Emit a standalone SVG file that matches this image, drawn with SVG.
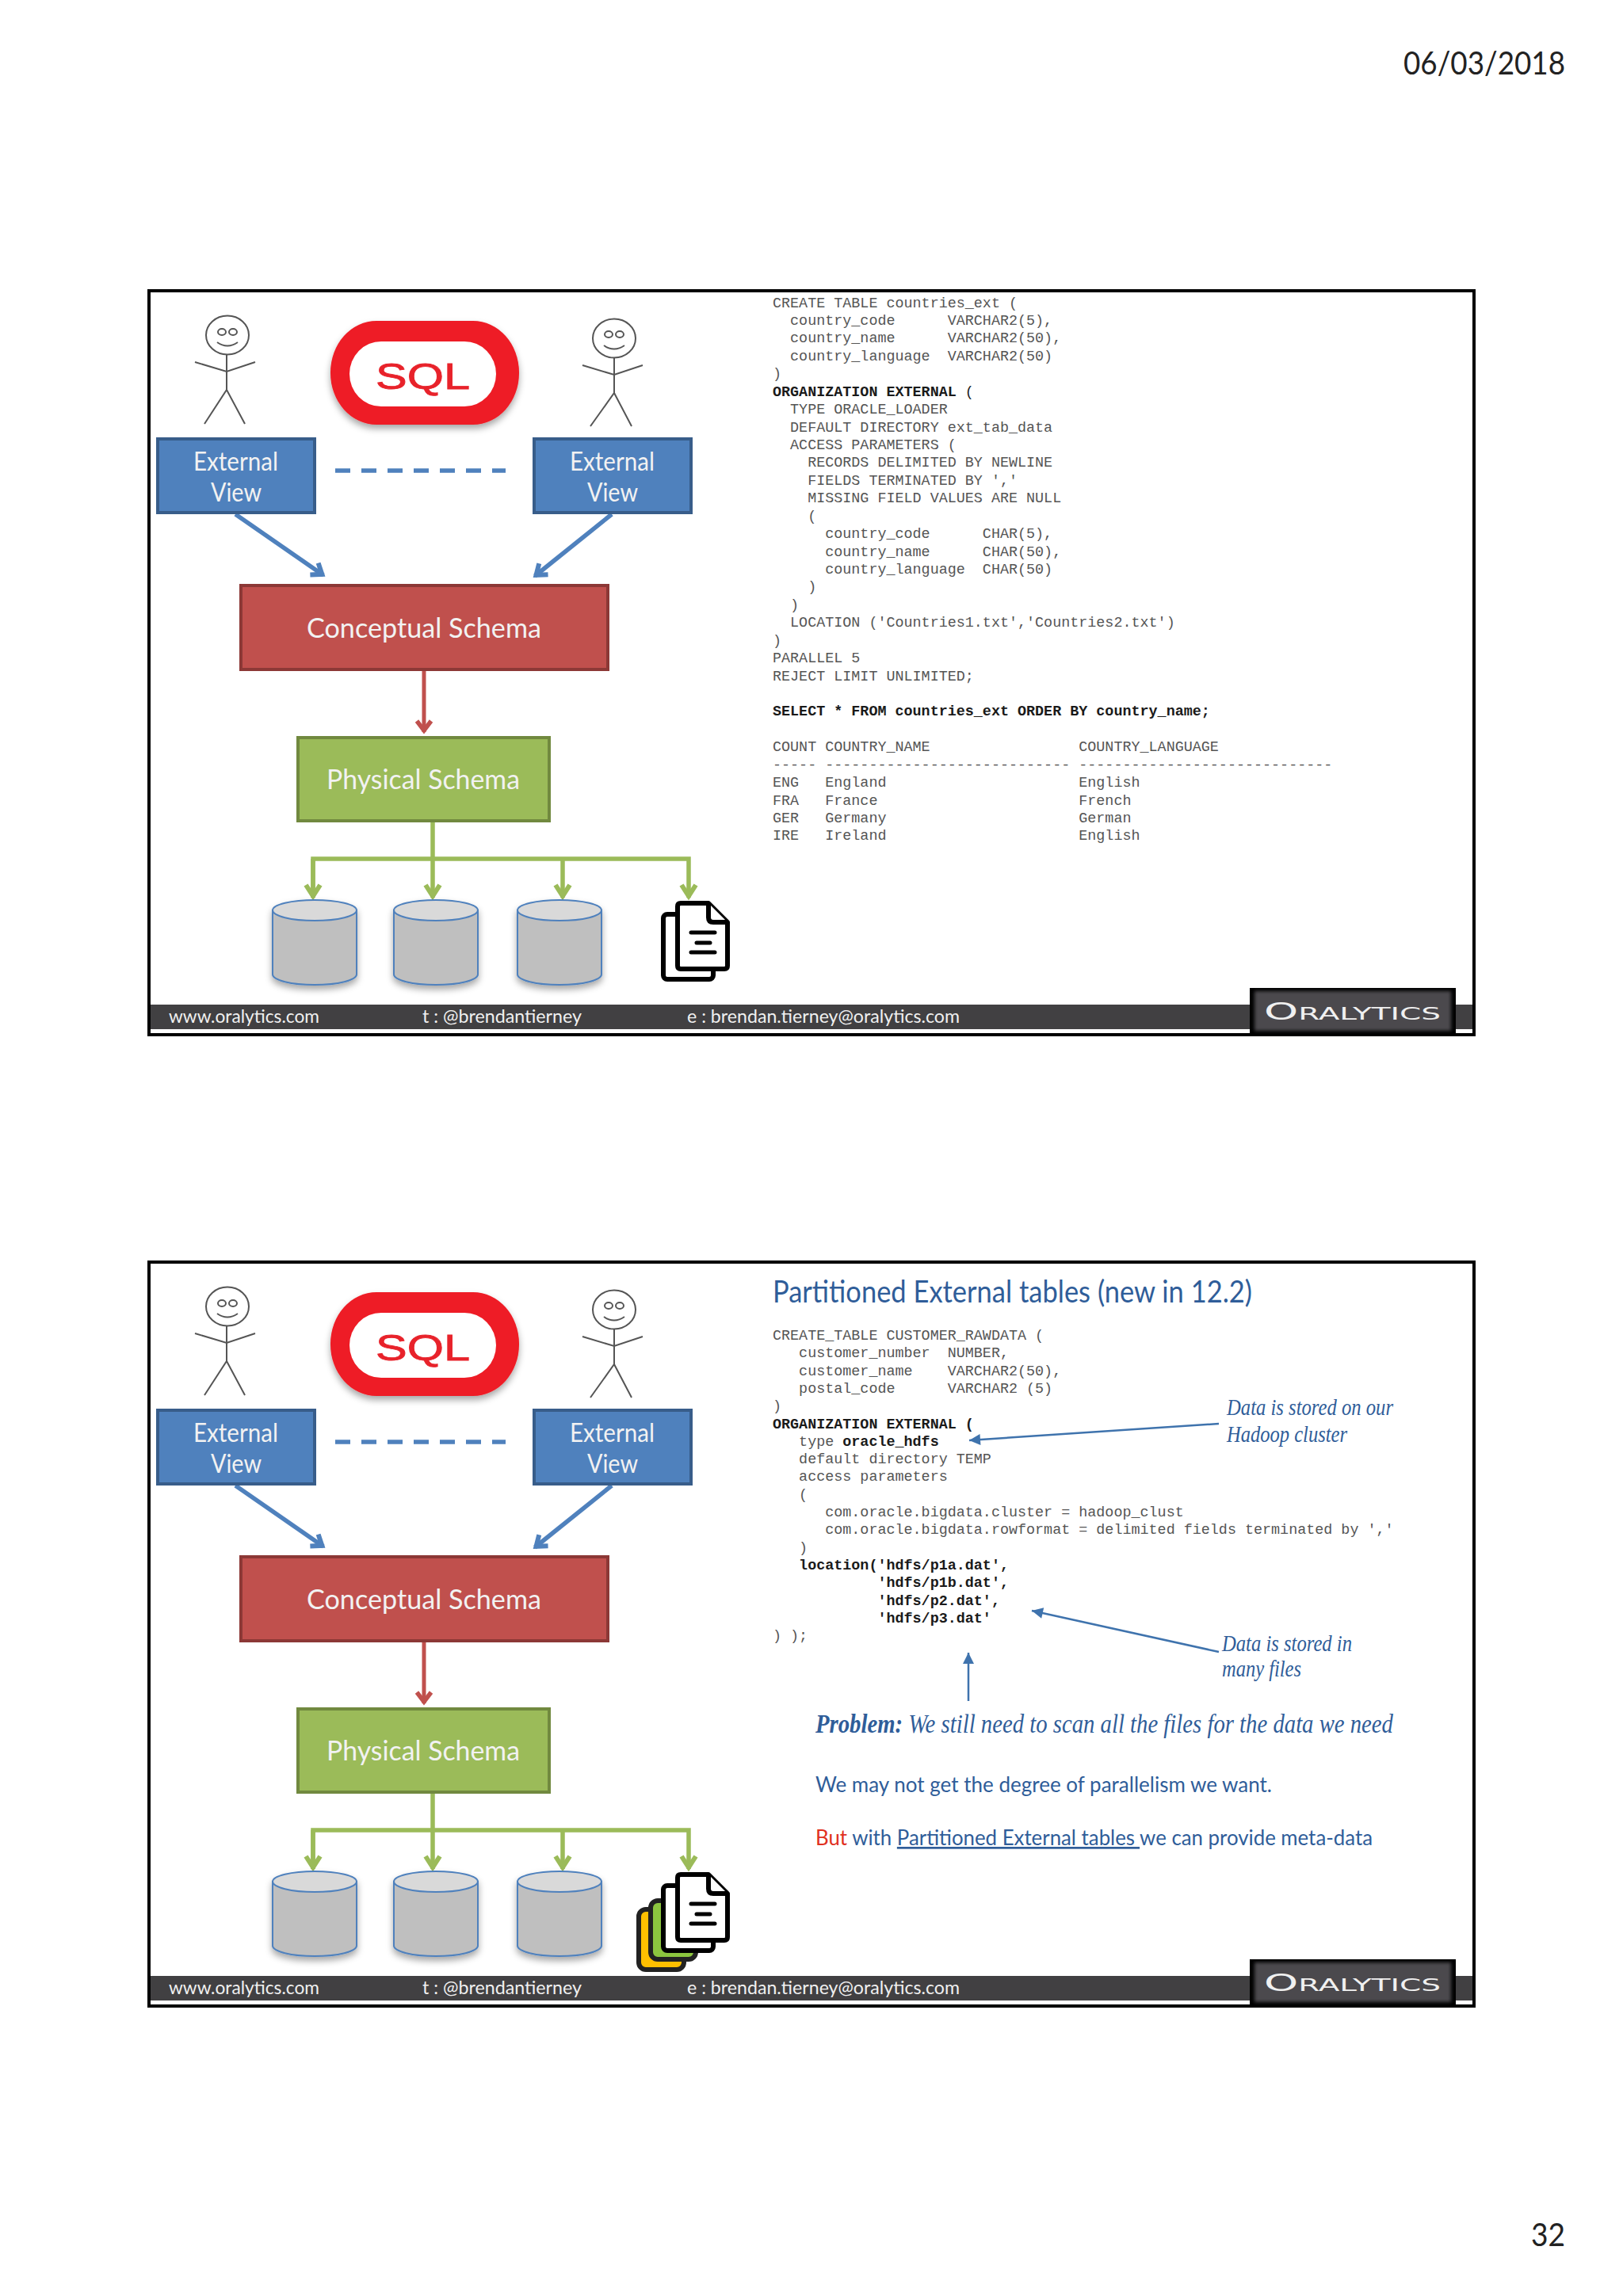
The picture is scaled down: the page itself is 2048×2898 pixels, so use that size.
<svg xmlns="http://www.w3.org/2000/svg" width="2048" height="2898" viewBox="0 0 2048 2898">
<style>
.sans{font-family:"Lato","Open Sans","Liberation Sans",sans-serif}
.code{font-family:"Liberation Mono","Courier New",monospace;font-size:18.4px;fill:#555;white-space:pre}
.code .b,.code.b{font-weight:700;fill:#1a1a1a}
.cur{font-family:"Liberation Serif",serif;font-style:italic;fill:#2f5d99;white-space:pre}
.lbl{font-family:"Lato","Open Sans",sans-serif;fill:#f2f2f2}
.foot{font-family:"Lato","Open Sans",sans-serif;fill:#f0f0f0;font-size:24px}
.blue{fill:#4f81bd;stroke:#385d8a;stroke-width:4}
.red{fill:#c0504d;stroke:#8c3836;stroke-width:4}
.green{fill:#9bbb59;stroke:#71893f;stroke-width:4}
.frame{fill:#fff;stroke:#000;stroke-width:4}
.cb{fill:#bfbfbf;stroke:#4f81bd;stroke-width:2}
.ct{fill:#d9d9d9;stroke:#4f81bd;stroke-width:2}
.st{fill:none;stroke:#555;stroke-width:2}
.doc{fill:#fff;stroke:#000;stroke-width:6;stroke-linejoin:round}
.dl{stroke:#000;stroke-width:5;stroke-linecap:round;fill:none}
.cbl{fill:none;stroke:#4f81bd;stroke-width:5.5}
.cre{fill:none;stroke:#c0504d;stroke-width:5}
.cgr{fill:none;stroke:#9bbb59;stroke-width:5.5}
.ann{fill:none;stroke:#3f73ad;stroke-width:2.5}
</style>
<defs>
<filter id="sh" x="-20%" y="-20%" width="140%" height="140%"><feDropShadow dx="0" dy="5" stdDeviation="4" flood-color="#000" flood-opacity="0.35"/></filter>
<filter id="bv" x="-5%" y="-20%" width="110%" height="140%"><feGaussianBlur stdDeviation="2"/></filter>
<marker id="aBl" markerUnits="userSpaceOnUse" viewBox="-20 -13 24 26" markerWidth="24" markerHeight="26" refX="0" refY="0" orient="auto"><path d="M-14,-9 L-2,0 L-14,9" fill="none" stroke="#4f81bd" stroke-width="6"/></marker>
<marker id="aRe" markerUnits="userSpaceOnUse" viewBox="-20 -13 24 26" markerWidth="24" markerHeight="26" refX="0" refY="0" orient="auto"><path d="M-14,-9 L-2,0 L-14,9" fill="none" stroke="#c0504d" stroke-width="5.5"/></marker>
<marker id="aGr" markerUnits="userSpaceOnUse" viewBox="-20 -13 24 26" markerWidth="24" markerHeight="26" refX="0" refY="0" orient="auto"><path d="M-16,-9 L-2,0 L-16,9" fill="none" stroke="#9bbb59" stroke-width="6"/></marker>
<marker id="aAn" markerUnits="userSpaceOnUse" viewBox="-16 -9 18 18" markerWidth="18" markerHeight="18" refX="0" refY="0" orient="auto"><path d="M-14,-7 L0,0 L-14,7Z" fill="#3f73ad"/></marker>
</defs>
<rect width="2048" height="2898" fill="#fff"/>
<text id="date" class="sans" x="1771" y="94" font-size="41" fill="#222" textLength="204" lengthAdjust="spacingAndGlyphs">06/03/2018</text>
<text id="page" class="sans" x="1932" y="2835" font-size="41" fill="#222" textLength="43" lengthAdjust="spacingAndGlyphs">32</text>

<g id="slide1">
<rect class="frame" x="188" y="367" width="1672" height="939"/>
<rect id="s1-bar" x="190" y="1268" width="1668" height="31" fill="#414042"/>
<g id="s1-connectors">
<path class="cbl" d="M297 649L408 726" marker-end="url(#aBl)"/>
<path class="cbl" d="M772 649L675 727" marker-end="url(#aBl)"/>
<path d="M423 594H638" fill="none" stroke="#4f81bd" stroke-width="5.5" stroke-dasharray="19 14"/>
<path class="cre" d="M535 847V924" marker-end="url(#aRe)"/>
<path class="cgr" d="M546 1038V1133" marker-end="url(#aGr)"/>
<path class="cgr" d="M395 1133V1084H869V1133" marker-end="url(#aGr)"/>
<path class="cgr" d="M395 1084V1133" marker-end="url(#aGr)"/>
<path class="cgr" d="M710 1084V1133" marker-end="url(#aGr)"/>
</g>
<g id="s1-user1"><ellipse class="st" cx="287" cy="423" rx="27" ry="24.5"/><ellipse class="st" cx="280" cy="419" rx="5" ry="4"/><ellipse class="st" cx="294" cy="419" rx="5" ry="4"/><path class="st" d="M274 432Q287 441 300 432M286 448V492M246 457L286 469L322 457M258 535L286 492L309 535"/></g>
<g id="s1-user2"><ellipse class="st" cx="775" cy="427" rx="27" ry="24.5"/><ellipse class="st" cx="768" cy="422" rx="5" ry="4"/><ellipse class="st" cx="782" cy="422" rx="5" ry="4"/><path class="st" d="M762 436Q775 445 788 436M775 452V496M735 461L775 473L811 461M745 538L775 496L797 538"/></g>
<g id="s1-sql" filter="url(#sh)"><rect x="417" y="405" width="238" height="131" rx="58" ry="65" fill="#ee1c25"/><rect x="441" y="431" width="185" height="82" rx="40" ry="41" fill="#fff"/><text x="474" y="491" font-family="Liberation Sans,sans-serif" font-size="47" fill="#e8212a" stroke="#e8212a" stroke-width="0.8" textLength="119" lengthAdjust="spacingAndGlyphs">SQL</text></g>
<g id="s1-ext1"><rect class="blue" x="199" y="554" width="198" height="93"/><text class="lbl" x="244" y="594" font-size="32" textLength="107" lengthAdjust="spacingAndGlyphs">External</text><text class="lbl" x="266" y="633" font-size="32" textLength="64" lengthAdjust="spacingAndGlyphs">View</text></g>
<g id="s1-ext2"><rect class="blue" x="674" y="554" width="198" height="93"/><text class="lbl" x="719" y="594" font-size="32" textLength="107" lengthAdjust="spacingAndGlyphs">External</text><text class="lbl" x="741" y="633" font-size="32" textLength="64" lengthAdjust="spacingAndGlyphs">View</text></g>
<g id="s1-conceptual"><rect class="red" x="304" y="739" width="463" height="106"/><text class="lbl" x="387" y="805" font-size="34" textLength="296" lengthAdjust="spacingAndGlyphs">Conceptual Schema</text></g>
<g id="s1-physical"><rect class="green" x="376" y="931" width="317" height="105"/><text class="lbl" x="412" y="996" font-size="34" textLength="244" lengthAdjust="spacingAndGlyphs">Physical Schema</text></g>
<g id="s1-db1" filter="url(#sh)"><path class="cb" d="M344 1149V1230A53 13 0 0 0 450 1230V1149Z"/><ellipse class="ct" cx="397" cy="1149" rx="53" ry="13"/></g>
<g id="s1-db2" filter="url(#sh)"><path class="cb" d="M497 1149V1230A53 13 0 0 0 603 1230V1149Z"/><ellipse class="ct" cx="550" cy="1149" rx="53" ry="13"/></g>
<g id="s1-db3" filter="url(#sh)"><path class="cb" d="M653 1149V1230A53 13 0 0 0 759 1230V1149Z"/><ellipse class="ct" cx="706" cy="1149" rx="53" ry="13"/></g>
<g id="s1-files"><rect class="doc" x="837" y="1154" width="63" height="82" rx="5"/><path class="doc" d="M859 1140H894L918 1164V1219Q918 1223 914 1223H859Q855 1223 855 1219V1144Q855 1140 859 1140Z"/><path class="doc" d="M894 1140V1158Q894 1164 900 1164H918" fill="none"/><path class="dl" d="M872 1177H902M879 1190H896M872 1202H902"/></g>
<g id="s1-footer"><text class="foot" x="213" y="1291" textLength="190" lengthAdjust="spacingAndGlyphs">www.oralytics.com</text><text class="foot" x="533" y="1291" textLength="201" lengthAdjust="spacingAndGlyphs">t : @brendantierney</text><text class="foot" x="867" y="1291" textLength="344" lengthAdjust="spacingAndGlyphs">e : brendan.tierney@oralytics.com</text></g>
<g id="s1-logo"><rect x="1577" y="1247" width="260" height="60" fill="#000"/><rect x="1583" y="1251" width="248" height="50" fill="#4c4a4d" filter="url(#bv)"/><text x="1595" y="1287" font-family="DejaVu Sans,sans-serif" font-size="22" fill="#f0f0f0" textLength="223" lengthAdjust="spacingAndGlyphs"><tspan font-size="31">O</tspan>RALYTICS</text></g>
<g id="s1-code" transform="translate(0,-1)">
<text class="code" x="975" y="388.5">CREATE TABLE countries_ext (</text>
<text class="code" x="975" y="410.9">  country_code      VARCHAR2(5),</text>
<text class="code" x="975" y="433.4">  country_name      VARCHAR2(50),</text>
<text class="code" x="975" y="455.8">  country_language  VARCHAR2(50)</text>
<text class="code" x="975" y="478.2">)</text>
<text class="code b" x="975" y="500.7">ORGANIZATION EXTERNAL <tspan style="font-weight:400">(</tspan></text>
<text class="code" x="975" y="523.1">  TYPE ORACLE_LOADER</text>
<text class="code" x="975" y="545.5">  DEFAULT DIRECTORY ext_tab_data</text>
<text class="code" x="975" y="567.9">  ACCESS PARAMETERS (</text>
<text class="code" x="975" y="590.4">    RECORDS DELIMITED BY NEWLINE</text>
<text class="code" x="975" y="612.8">    FIELDS TERMINATED BY ','</text>
<text class="code" x="975" y="635.2">    MISSING FIELD VALUES ARE NULL</text>
<text class="code" x="975" y="657.7">    (</text>
<text class="code" x="975" y="680.1">      country_code      CHAR(5),</text>
<text class="code" x="975" y="702.5">      country_name      CHAR(50),</text>
<text class="code" x="975" y="725">      country_language  CHAR(50)</text>
<text class="code" x="975" y="747.4">    )</text>
<text class="code" x="975" y="769.8">  )</text>
<text class="code" x="975" y="792.2">  LOCATION ('Countries1.txt','Countries2.txt')</text>
<text class="code" x="975" y="814.7">)</text>
<text class="code" x="975" y="837.1">PARALLEL 5</text>
<text class="code" x="975" y="859.5">REJECT LIMIT UNLIMITED;</text>
<text class="code b" x="975" y="904.4">SELECT * FROM countries_ext ORDER BY country_name;</text>
<text class="code" x="975" y="949.2">COUNT COUNTRY_NAME                 COUNTRY_LANGUAGE</text>
<text class="code" x="975" y="971.7">----- ---------------------------- -----------------------------</text>
<text class="code" x="975" y="994.1">ENG   England                      English</text>
<text class="code" x="975" y="1016.5">FRA   France                       French</text>
<text class="code" x="975" y="1039">GER   Germany                      German</text>
<text class="code" x="975" y="1061.4">IRE   Ireland                      English</text>
</g>
</g>

<g id="slide2">
<g transform="translate(0,1226)">
<rect class="frame" x="188" y="367" width="1672" height="939"/>
<rect id="s2-bar" x="190" y="1268" width="1668" height="31" fill="#414042"/>
<g id="s2-connectors">
<path class="cbl" d="M297 649L408 726" marker-end="url(#aBl)"/>
<path class="cbl" d="M772 649L675 727" marker-end="url(#aBl)"/>
<path d="M423 594H638" fill="none" stroke="#4f81bd" stroke-width="5.5" stroke-dasharray="19 14"/>
<path class="cre" d="M535 847V924" marker-end="url(#aRe)"/>
<path class="cgr" d="M546 1038V1133" marker-end="url(#aGr)"/>
<path class="cgr" d="M395 1133V1084H869V1133" marker-end="url(#aGr)"/>
<path class="cgr" d="M395 1084V1133" marker-end="url(#aGr)"/>
<path class="cgr" d="M710 1084V1133" marker-end="url(#aGr)"/>
</g>
<g id="s2-user1"><ellipse class="st" cx="287" cy="423" rx="27" ry="24.5"/><ellipse class="st" cx="280" cy="419" rx="5" ry="4"/><ellipse class="st" cx="294" cy="419" rx="5" ry="4"/><path class="st" d="M274 432Q287 441 300 432M286 448V492M246 457L286 469L322 457M258 535L286 492L309 535"/></g>
<g id="s2-user2"><ellipse class="st" cx="775" cy="427" rx="27" ry="24.5"/><ellipse class="st" cx="768" cy="422" rx="5" ry="4"/><ellipse class="st" cx="782" cy="422" rx="5" ry="4"/><path class="st" d="M762 436Q775 445 788 436M775 452V496M735 461L775 473L811 461M745 538L775 496L797 538"/></g>
<g id="s2-sql" filter="url(#sh)"><rect x="417" y="405" width="238" height="131" rx="58" ry="65" fill="#ee1c25"/><rect x="441" y="431" width="185" height="82" rx="40" ry="41" fill="#fff"/><text x="474" y="491" font-family="Liberation Sans,sans-serif" font-size="47" fill="#e8212a" stroke="#e8212a" stroke-width="0.8" textLength="119" lengthAdjust="spacingAndGlyphs">SQL</text></g>
<g id="s2-ext1"><rect class="blue" x="199" y="554" width="198" height="93"/><text class="lbl" x="244" y="594" font-size="32" textLength="107" lengthAdjust="spacingAndGlyphs">External</text><text class="lbl" x="266" y="633" font-size="32" textLength="64" lengthAdjust="spacingAndGlyphs">View</text></g>
<g id="s2-ext2"><rect class="blue" x="674" y="554" width="198" height="93"/><text class="lbl" x="719" y="594" font-size="32" textLength="107" lengthAdjust="spacingAndGlyphs">External</text><text class="lbl" x="741" y="633" font-size="32" textLength="64" lengthAdjust="spacingAndGlyphs">View</text></g>
<g id="s2-conceptual"><rect class="red" x="304" y="739" width="463" height="106"/><text class="lbl" x="387" y="805" font-size="34" textLength="296" lengthAdjust="spacingAndGlyphs">Conceptual Schema</text></g>
<g id="s2-physical"><rect class="green" x="376" y="931" width="317" height="105"/><text class="lbl" x="412" y="996" font-size="34" textLength="244" lengthAdjust="spacingAndGlyphs">Physical Schema</text></g>
<g id="s2-db1" filter="url(#sh)"><path class="cb" d="M344 1149V1230A53 13 0 0 0 450 1230V1149Z"/><ellipse class="ct" cx="397" cy="1149" rx="53" ry="13"/></g>
<g id="s2-db2" filter="url(#sh)"><path class="cb" d="M497 1149V1230A53 13 0 0 0 603 1230V1149Z"/><ellipse class="ct" cx="550" cy="1149" rx="53" ry="13"/></g>
<g id="s2-db3" filter="url(#sh)"><path class="cb" d="M653 1149V1230A53 13 0 0 0 759 1230V1149Z"/><ellipse class="ct" cx="706" cy="1149" rx="53" ry="13"/></g>
<g id="s2-files"><rect x="806" y="1184" width="57" height="76" rx="9" fill="#ffc000" stroke="#222" stroke-width="6"/><rect x="821" y="1173" width="57" height="74" rx="9" fill="#8cc63f" stroke="#222" stroke-width="6"/><rect class="doc" x="837" y="1154" width="63" height="82" rx="5"/><path class="doc" d="M859 1140H894L918 1164V1219Q918 1223 914 1223H859Q855 1223 855 1219V1144Q855 1140 859 1140Z"/><path class="doc" d="M894 1140V1158Q894 1164 900 1164H918" fill="none"/><path class="dl" d="M872 1177H902M879 1190H896M872 1202H902"/></g>
<g id="s2-footer"><text class="foot" x="213" y="1291" textLength="190" lengthAdjust="spacingAndGlyphs">www.oralytics.com</text><text class="foot" x="533" y="1291" textLength="201" lengthAdjust="spacingAndGlyphs">t : @brendantierney</text><text class="foot" x="867" y="1291" textLength="344" lengthAdjust="spacingAndGlyphs">e : brendan.tierney@oralytics.com</text></g>
<g id="s2-logo"><rect x="1577" y="1247" width="260" height="60" fill="#000"/><rect x="1583" y="1251" width="248" height="50" fill="#4c4a4d" filter="url(#bv)"/><text x="1595" y="1287" font-family="DejaVu Sans,sans-serif" font-size="22" fill="#f0f0f0" textLength="223" lengthAdjust="spacingAndGlyphs"><tspan font-size="31">O</tspan>RALYTICS</text></g>
</g>
<text id="s2-title" class="sans" x="975" y="1644" font-size="38" fill="#2f5d99" textLength="605" lengthAdjust="spacingAndGlyphs">Partitioned External tables (new in 12.2)</text>
<g id="s2-code" transform="translate(0,-1)">
<text class="code" x="975" y="1692">CREATE_TABLE CUSTOMER_RAWDATA (</text>
<text class="code" x="975" y="1714.3">   customer_number  NUMBER,</text>
<text class="code" x="975" y="1736.6">   customer_name    VARCHAR2(50),</text>
<text class="code" x="975" y="1758.9">   postal_code      VARCHAR2 (5)</text>
<text class="code" x="975" y="1781.2">)</text>
<text class="code b" x="975" y="1803.5">ORGANIZATION EXTERNAL (</text>
<text class="code" x="975" y="1825.8">   type <tspan class="b">oracle_hdfs</tspan></text>
<text class="code" x="975" y="1848.1">   default directory TEMP</text>
<text class="code" x="975" y="1870.4">   access parameters</text>
<text class="code" x="975" y="1892.7">   (</text>
<text class="code" x="975" y="1915">      com.oracle.bigdata.cluster = hadoop_clust</text>
<text class="code" x="975" y="1937.3">      com.oracle.bigdata.rowformat = delimited fields terminated by ','</text>
<text class="code" x="975" y="1959.6">   )</text>
<text class="code b" x="975" y="1981.9">   location('hdfs/p1a.dat',</text>
<text class="code b" x="975" y="2004.2">            'hdfs/p1b.dat',</text>
<text class="code b" x="975" y="2026.5">            'hdfs/p2.dat',</text>
<text class="code b" x="975" y="2048.8">            'hdfs/p3.dat'</text>
<text class="code" x="975" y="2071.1">) );</text>
</g>
<g id="s2-annotations">
<path class="ann" d="M1538 1797L1223 1818" marker-end="url(#aAn)"/>
<path class="ann" d="M1538 2085L1302 2033" marker-end="url(#aAn)"/>
<path class="ann" d="M1222 2147V2086" marker-end="url(#aAn)"/>
<text class="cur" x="1548" y="1786" font-size="29" textLength="210" lengthAdjust="spacingAndGlyphs">Data is stored on our</text>
<text class="cur" x="1548" y="1820" font-size="29" textLength="152" lengthAdjust="spacingAndGlyphs">Hadoop cluster</text>
<text class="cur" x="1542" y="2084" font-size="29" textLength="164" lengthAdjust="spacingAndGlyphs">Data is stored in</text>
<text class="cur" x="1542" y="2116" font-size="29" textLength="100" lengthAdjust="spacingAndGlyphs">many files</text>
<text class="cur" x="1029" y="2187" font-size="34" textLength="729" lengthAdjust="spacingAndGlyphs"><tspan font-weight="700">Problem:</tspan> We still need to scan all the files for the data we need</text>
<text class="sans" x="1029" y="2262" font-size="27" fill="#2f5d99" textLength="576" lengthAdjust="spacingAndGlyphs">We may not get the degree of parallelism we want.</text>
<text class="sans" x="1029" y="2329" font-size="27" fill="#2f5d99" textLength="703" lengthAdjust="spacingAndGlyphs" style="white-space:pre"><tspan fill="#e0301e">But</tspan> with <tspan text-decoration="underline">Partitioned External tables </tspan>we can provide meta-data</text>
</g>
</g>
</svg>
